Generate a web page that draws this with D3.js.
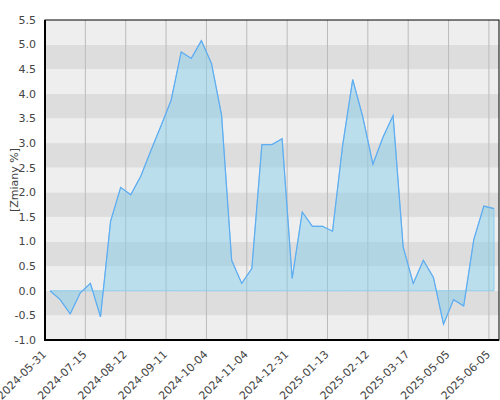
<!DOCTYPE html>
<meta charset="utf-8">
<title>Zmiany %</title>
<style>

body {
  margin: 0;
  background: #fff;
}

text {
  font-family: "DejaVu Sans", sans-serif;
  font-size: 11px;
  fill: #444;
}

.band-light {
  fill: #eeeeee;
}

.band-dark {
  fill: #dddddd;
}

.grid line {
  stroke: #bbbbbb;
  stroke-width: 1px;
}

.area {
  fill: rgb(135, 206, 235);
  fill-opacity: 0.5;
  stroke: #8ccbea;
  stroke-width: 1px;
}

.line {
  fill: none;
  stroke: #5eacf2;
  stroke-width: 1.2px;
  stroke-linejoin: miter;
}

</style>
<body>
<script src="https://cdn.jsdelivr.net/npm/d3@7"></script>
<script>

var width = 500,
    height = 400,
    margin = {top: 20, right: 1, bottom: 60, left: 45};

// tick labels, one every 4 points
var tickLabels = ["2024-05-31", "2024-07-15", "2024-08-12", "2024-09-11",
  "2024-10-04", "2024-11-04", "2024-12-31", "2025-01-13", "2025-02-12",
  "2025-03-17", "2025-05-05", "2025-06-05"];

// changes in %
var values = [0.00, -0.18, -0.47, -0.04, 0.15, -0.53, 1.41, 2.10, 1.95, 2.33,
  2.85, 3.35, 3.87, 4.85, 4.72, 5.08, 4.62, 3.57, 0.62, 0.15,
  0.45, 2.97, 2.97, 3.09, 0.25, 1.60, 1.31, 1.31, 1.21, 2.95,
  4.29, 3.53, 2.57, 3.12, 3.56, 0.89, 0.15, 0.62, 0.27, -0.68,
  -0.18, -0.31, 1.04, 1.72, 1.67];

var yTicks = [-1.0, -0.5, 0.0, 0.5, 1.0, 1.5, 2.0, 2.5, 3.0, 3.5, 4.0, 4.5, 5.0, 5.5];

var w = width - margin.left - margin.right,
    h = height - margin.top - margin.bottom;

var x = d3.scaleLinear()
    .domain([-0.5, values.length - 0.5])
    .range([0, w]);

var y = d3.scaleLinear()
    .domain([-1, 5.5])
    .range([h, 0]);

var svg = d3.select("body").append("svg")
    .attr("width", width)
    .attr("height", height);

var g = svg.append("g")
    .attr("transform", "translate(" + margin.left + "," + margin.top + ")");

// alternating horizontal bands
g.selectAll(".band")
    .data(yTicks.slice(0, -1))
  .enter().append("rect")
    .attr("class", function(d, i) { return i % 2 ? "band-dark" : "band-light"; })
    .attr("x", 0)
    .attr("width", w)
    .attr("y", function(d) { return y(d + 0.5); })
    .attr("height", function(d) { return y(d) - y(d + 0.5); });

var tickIndex = tickLabels.map(function(d, i) { return i * 4 - 0.5; });

g.append("g")
    .attr("class", "grid")
  .selectAll("line")
    .data(tickIndex)
  .enter().append("line")
    .attr("x1", function(d) { return x(d); })
    .attr("x2", function(d) { return x(d); })
    .attr("y1", 0)
    .attr("y2", h);

var area = d3.area()
    .x(function(d, i) { return x(i); })
    .y0(y(0))
    .y1(function(d) { return y(d); });

var line = d3.line()
    .x(function(d, i) { return x(i); })
    .y(function(d) { return y(d); });

g.append("path")
    .datum(values)
    .attr("class", "area")
    .attr("d", area);

g.append("path")
    .datum(values)
    .attr("class", "line")
    .attr("d", line);

// frame
g.append("rect")
    .attr("width", w)
    .attr("height", h)
    .attr("fill", "none")
    .attr("stroke", "#000")
    .attr("stroke-width", 1);

g.append("path")
    .attr("d", "M0,0V" + h + "H" + w)
    .attr("fill", "none")
    .attr("stroke", "#000")
    .attr("stroke-width", 2);

// y axis labels
g.selectAll(".ylabel")
    .data(yTicks)
  .enter().append("text")
    .attr("class", "ylabel")
    .attr("x", -9)
    .attr("y", function(d) { return y(d); })
    .attr("dy", "0.35em")
    .attr("text-anchor", "end")
    .text(function(d) { return d.toFixed(1); });

// x axis labels
g.selectAll(".xlabel")
    .data(tickLabels)
  .enter().append("text")
    .attr("class", "xlabel")
    .attr("text-anchor", "end")
    .attr("transform", function(d, i) {
      return "translate(" + (x(tickIndex[i]) + 2) + "," + (h + 15) + ")rotate(-45)";
    })
    .text(function(d) { return d; });

svg.append("text")
    .attr("text-anchor", "middle")
    .attr("transform", "translate(18," + (margin.top + h / 2) + ")rotate(-90)")
    .text("[Zmiany %]");

</script>
</body>
</html>
